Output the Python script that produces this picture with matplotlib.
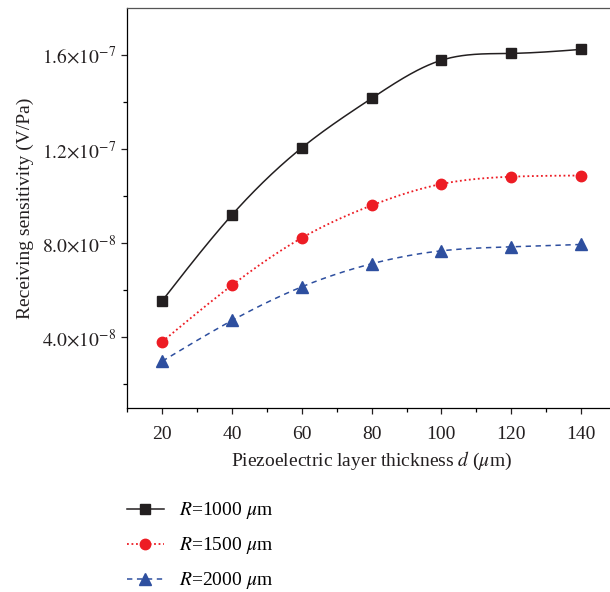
import numpy as np
import matplotlib.pyplot as plt
from matplotlib.ticker import MultipleLocator, FixedLocator

plt.rcParams['font.family'] = 'Liberation Serif'
plt.rcParams['mathtext.fontset'] = 'stix'

# piezoelectric layer thickness (um)
thickness = [20, 40, 60, 80, 100, 120, 140]

# receiving sensitivity (V/Pa) for each membrane radius
sens_r1000 = [5.56e-8, 9.21e-8, 1.206e-7, 1.416e-7, 1.578e-7, 1.607e-7, 1.624e-7]
sens_r1500 = [3.82e-8, 6.22e-8, 8.23e-8, 9.61e-8, 1.052e-7, 1.083e-7, 1.088e-7]
sens_r2000 = [2.99e-8, 4.72e-8, 6.15e-8, 7.13e-8, 7.68e-8, 7.85e-8, 7.95e-8]

series_labels = [r'$R$=1000 $\mu$m', r'$R$=1500 $\mu$m', r'$R$=2000 $\mu$m']

ytick_vals = [4e-8, 8e-8, 1.2e-7, 1.6e-7]
ytick_labels = [r'$4.0{\times}10^{-8}$', r'$8.0{\times}10^{-8}$',
                r'$1.2{\times}10^{-7}$', r'$1.6{\times}10^{-7}$']


def natural_spline(x, y, n=300):
    """Natural cubic spline through (x, y), returns dense curve"""
    x = np.asarray(x, float)
    y = np.asarray(y, float)
    k = len(x)
    h = np.diff(x)
    A = np.zeros((k, k))
    b = np.zeros(k)
    A[0, 0] = A[-1, -1] = 1.0
    for i in range(1, k - 1):
        A[i, i - 1] = h[i - 1]
        A[i, i] = 2 * (h[i - 1] + h[i])
        A[i, i + 1] = h[i]
        b[i] = 6 * ((y[i + 1] - y[i]) / h[i] - (y[i] - y[i - 1]) / h[i - 1])
    M = np.linalg.solve(A, b)
    xs = np.linspace(x[0], x[-1], n)
    idx = np.clip(np.searchsorted(x, xs) - 1, 0, k - 2)
    x0, x1 = x[idx], x[idx + 1]
    hh = x1 - x0
    t0, t1 = x1 - xs, xs - x0
    ys = (M[idx] * t0**3 + M[idx + 1] * t1**3) / (6 * hh) \
        + (y[idx] / hh - M[idx] * hh / 6) * t0 \
        + (y[idx + 1] / hh - M[idx + 1] * hh / 6) * t1
    return xs, ys


fs = 14

fig = plt.figure(figsize=(6.10, 5.92), dpi=100)
ax = fig.add_axes([0.2088, 0.3108, 0.8008, 0.6757])

styles = [
    dict(color='#231f20', ls='-', lw=1.1, marker='s', ms=6.5, mfc='#231f20'),
    dict(color='#ed1c24', ls=(0, (1, 1.5)), lw=1.3, marker='o', ms=7.5, mfc='#ed1c24'),
    dict(color='#2e4f9f', ls=(0, (3.5, 3)), lw=1.1, marker='^', ms=8, mfc='#2e4f9f'),
]

handles = []
for vals, st, lab in zip([sens_r1000, sens_r1500, sens_r2000], styles, series_labels):
    xs, ys = natural_spline(thickness, vals)
    ax.plot(xs, ys, color=st['color'], ls=st['ls'], lw=st['lw'])
    ax.plot(thickness, vals, ls='none', marker=st['marker'], ms=st['ms'],
            mfc=st['mfc'], mec=st['mfc'])
    h, = ax.plot([], [], color=st['color'], ls=st['ls'], lw=st['lw'],
                 marker=st['marker'], ms=st['ms'], mfc=st['mfc'], mec=st['mfc'],
                 label=lab)
    handles.append(h)

ax.set_xlim(10, 150)
ax.set_ylim(1e-8, 1.8e-7)
ax.xaxis.set_major_locator(FixedLocator(thickness))
ax.xaxis.set_minor_locator(MultipleLocator(10))
ax.yaxis.set_major_locator(FixedLocator(ytick_vals))
ax.set_yticklabels(ytick_labels)
ax.yaxis.set_minor_locator(FixedLocator([2e-8, 6e-8, 1e-7, 1.4e-7]))

ax.tick_params(which='major', direction='out', length=4, width=0.9,
               labelsize=fs, colors='#231f20')
ax.tick_params(axis='x', which='major', pad=9)
ax.tick_params(axis='y', which='major', pad=4)
ax.tick_params(which='minor', direction='out', length=3, width=0.9)
ax.spines['right'].set_visible(False)
ax.spines['top'].set_color('#555555')
for s in ['left', 'bottom', 'top']:
    ax.spines[s].set_linewidth(0.9)

ax.set_xlabel(r'Piezoelectric layer thickness $d$ ($\mu$m)', fontsize=fs,
              color='#231f20', labelpad=5)
ax.set_ylabel('Receiving sensitivity (V/Pa)', fontsize=fs, color='#231f20',
              labelpad=6)

fig.legend(handles=handles, loc='upper left', bbox_to_anchor=(0.195, 0.168),
           frameon=False, fontsize=fs, handlelength=1.9, handletextpad=0.8,
           labelspacing=0.72, borderaxespad=0)

fig.savefig('out.png', dpi=100)
